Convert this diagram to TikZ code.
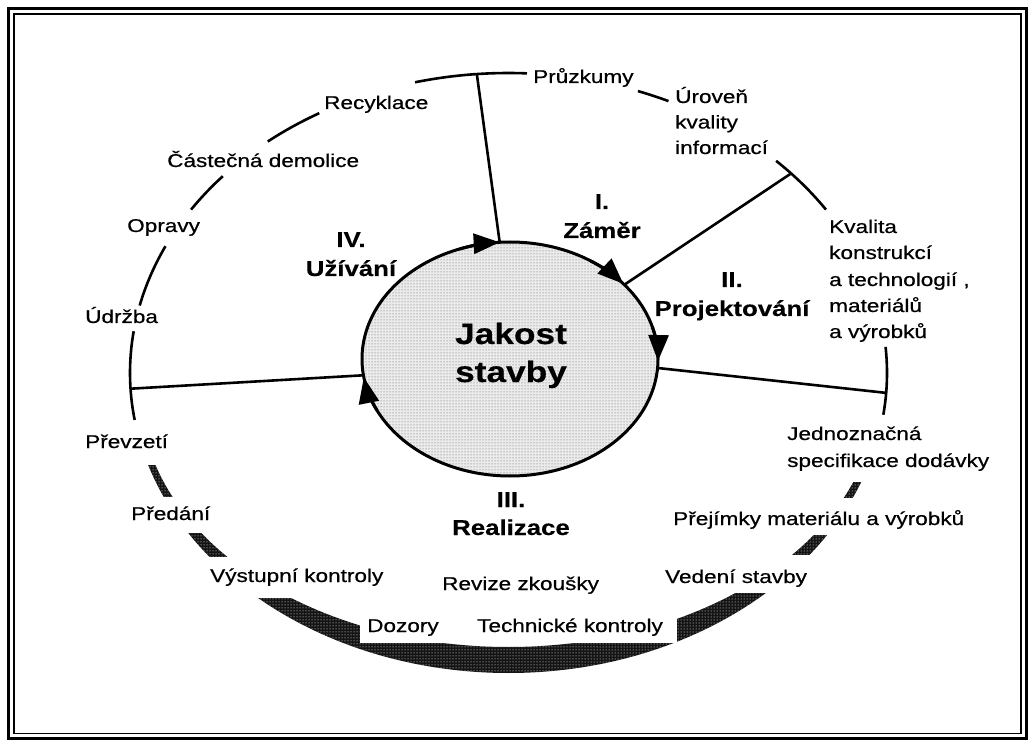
\documentclass[tikz,border=0pt]{standalone}
\usepackage{fontspec}
\newfontfamily\labfont[FakeStretch=1.22,FakeBold=0.6]{Liberation Sans}
\newfontfamily\headfont[FakeStretch=1.2,FakeBold=0.4]{Liberation Sans}
\usetikzlibrary{shapes.geometric,arrows.meta,patterns}
\begin{document}
\begin{tikzpicture}[x=1pt,y=-1pt,
  lab/.style={font=\labfont\fontsize{18.5}{22}\selectfont, inner sep=0pt, anchor=base west},
  head/.style={font=\headfont\bfseries\fontsize{21.5}{26}\selectfont, inner sep=0pt, anchor=base},
  big/.style={font=\headfont\bfseries\fontsize{29.4}{36}\selectfont, inner sep=0pt, anchor=base},
  outline/.style={line width=2.6pt},
  spoke/.style={line width=2.6pt},
  flow/.style={line width=3pt, -{Triangle[length=26pt,width=20pt]}},
  knock/.style={fill=white},
  core/.style={ellipse, draw, line width=3pt, minimum width=296pt, minimum height=234pt,
    inner sep=0pt, preaction={fill=black!8}, pattern=dots, pattern color=black!65}
]
\useasboundingbox (0,0) rectangle (1031,743);
\fill[white] (0,0) rectangle (1031,743);
% frame
\draw[line width=3pt] (8.5,8.5) rectangle (1026.5,738.5);
\draw[line width=1.8pt] (14,14) rectangle (1021,733.5);

% lower band of the outer ellipse
\begin{scope}
  \clip (0,465) -- (508,465) -- (508,482) -- (1031,482) -- (1031,743) -- (0,743) -- cycle;
  \fill[black!92, even odd rule] (508.5,373) ellipse [x radius=378.5, y radius=300]
        (508.5,393) ellipse [x radius=368, y radius=254];
  \fill[pattern=dots, pattern color=white, even odd rule] (508.5,373) ellipse [x radius=378.5, y radius=300]
        (508.5,393) ellipse [x radius=368, y radius=254];
\end{scope}
% gaps in the band for the labels
\fill[knock] (100,497) rectangle (260,533);
\fill[knock] (150,557) rectangle (400,598);
\fill[knock] (360,600) rectangle (677,643);
\fill[knock] (640,555) rectangle (900,593);
\fill[knock] (660,498) rectangle (980,535);

% thin arcs of the outer ellipse
\newcommand\outerarc[2]{\draw[outline] ([shift={(508.5,373)}]#1:378.5 and 300) arc[start angle=#1, end angle=#2, x radius=378.5, y radius=300];}
\outerarc{-104.3}{-87.2}
\outerarc{-129.5}{-120}
\outerarc{-147}{-139}
\outerarc{-167}{-155}
\outerarc{171}{188}
\outerarc{-5}{8}
\outerarc{-45}{-33}
\outerarc{-70}{-65}

% spoke end points
\coordinate (i1) at ([shift={(510,359)}]-94:148 and 117);
\coordinate (i2) at ([shift={(510,359)}]-39.4:148 and 117);
\coordinate (i3) at ([shift={(510,359)}]4.4:148 and 117);
\coordinate (i4) at ([shift={(510,359)}]172:148 and 117);
\coordinate (o1) at ([shift={(508.5,373)}]-94.8:378.5 and 300);
\coordinate (o2) at ([shift={(508.5,373)}]-41.7:378.5 and 300);
\coordinate (o3) at ([shift={(508.5,373)}]3.8:378.5 and 300);
\coordinate (o4) at ([shift={(508.5,373)}]177:378.5 and 300);
\draw[spoke] (i1) -- (o1);
\draw[spoke] (i2) -- (o2);
\draw[spoke] (i3) -- (o3);
\draw[spoke] (i4) -- (o4);

% central ellipse
\node[core] (jakost) at (510,359) {};
\draw[flow] ([shift={(510,359)}]-110:148 and 117) arc[start angle=-110, end angle=-94, x radius=148, y radius=117];
\draw[flow] ([shift={(510,359)}]-57:148 and 117) arc[start angle=-57, end angle=-40, x radius=148, y radius=117];
\draw[flow] ([shift={(510,359)}]-16:148 and 117) arc[start angle=-16, end angle=1, x radius=148, y radius=117];
\draw[flow] ([shift={(510,359)}]154:148 and 117) arc[start angle=154, end angle=171, x radius=148, y radius=117];

\node[big] (jak1) at (511,344) {Jakost};
\node[big] (jak2) at (511,382) {stavby};

% phase headings
\node[head] (h1a) at (602,209) {I.};
\node[head] (h1b) at (602,238) {Záměr};
\node[head] (h2a) at (732,287) {II.};
\node[head] (h2b) at (732,316) {Projektování};
\node[head] (h3a) at (511,507) {III.};
\node[head] (h3b) at (511,535) {Realizace};
\node[head] (h4a) at (351,247) {IV.};
\node[head] (h4b) at (351,276) {Užívání};

% labels round the outer ellipse
\node[lab] (pruz) at (533,83) {Průzkumy};
\node[lab] (urov1) at (675,103) {Úroveň};
\node[lab] (urov2) at (675,128.5) {kvality};
\node[lab] (urov3) at (675,154) {informací};
\node[lab] (recy) at (324,109) {Recyklace};
\node[lab] (demo) at (167,167) {Částečná demolice};
\node[lab] (opra) at (127,232) {Opravy};
\node[lab] (udrz) at (85,323) {Údržba};
\node[lab] (prev) at (85,448) {Převzetí};
\node[lab] (pred) at (131,520) {Předání};
\node[lab] (vyst) at (210,582) {Výstupní kontroly};
\node[lab] (revi) at (442,590) {Revize zkoušky};
\node[lab] (dozo) at (367,632) {Dozory};
\node[lab] (tech) at (477,632) {Technické kontroly};
\node[lab] (vede) at (665,583) {Vedení stavby};
\node[lab] (prej) at (673,525) {Přejímky materiálu a výrobků};
\node[lab] (jed1) at (787,440) {Jednoznačná};
\node[lab] (jed2) at (787,467) {specifikace dodávky};
\node[lab] (kv1) at (829,233) {Kvalita};
\node[lab] (kv2) at (829,259) {konstrukcí};
\node[lab] (kv3) at (829,286) {a technologií ,};
\node[lab] (kv4) at (829,312) {materiálů};
\node[lab] (kv5) at (829,338) {a výrobků};
\end{tikzpicture}
\end{document}
